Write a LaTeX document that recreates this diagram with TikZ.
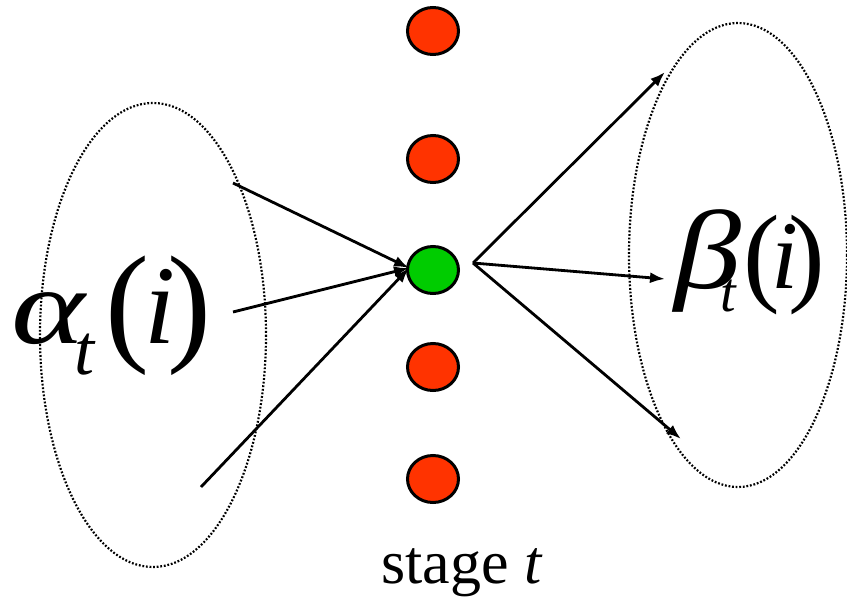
\documentclass[tikz,border=0pt]{standalone}
\usepackage{fontspec}
\setmainfont{Liberation Serif}
\usetikzlibrary{arrows.meta,shapes.geometric}
\definecolor{dotred}{RGB}{255,51,0}
\definecolor{dotgreen}{RGB}{0,204,0}
\newcommand{\fsz}[1]{\fontsize{#1}{#1}\selectfont}
\begin{document}
\begin{tikzpicture}[x=1pt,y=-1pt,
  state/.style={ellipse,draw=black,line width=3pt,minimum width=51pt,minimum height=47pt,inner sep=0pt},
  redstate/.style={state,fill=dotred},
  greenstate/.style={state,fill=dotgreen},
  group/.style={draw=black,line width=2.2pt,dash pattern=on 1.8pt off 1.8pt},
  link/.style={draw=black,line width=2.8pt,-{Latex[length=15pt,width=11pt]}},
  lbl/.style={inner sep=0pt,anchor=base west}]
\useasboundingbox (0,0) rectangle (847,597);
\fill[white] (0,0) rectangle (847,597);
% group ellipses
\draw[group] (153,335) ellipse [x radius=113, y radius=232];
\draw[group] (738,255) ellipse [x radius=109, y radius=232];
% states
\node[redstate] (r1) at (433,31) {};
\node[redstate] (r2) at (433,159) {};
\node[greenstate] (g) at (433,270) {};
\node[redstate] (r3) at (433,367) {};
\node[redstate] (r4) at (433,479) {};
% free ends
\coordinate (a1) at (233,183);
\coordinate (a2) at (233,312);
\coordinate (a3) at (201,487);
\coordinate (gin) at (409,268);
\coordinate (gs) at (473,263);
\coordinate (b1) at (665,72);
\coordinate (b2) at (665,279);
\coordinate (b3) at (681,439);
\draw[link] (a1) -- (gin);
\draw[link] (a2) -- (gin);
\draw[link] (a3) -- (gin);
\draw[link] (gs) -- (b1);
\draw[link] (gs) -- (b2);
\draw[link] (gs) -- (b3);
% labels
\node[lbl] (alpha) at (11,343) {\itshape\scalebox{1.3}[1]{\fsz{108}α}\kern-10pt\raisebox{-31pt}{\fsz{72}t}\kern11pt\raisebox{-4pt}{\fsz{132}\upshape(}\kern-5pt\fsz{112}i\kern-8pt\raisebox{-4pt}{\fsz{132}\upshape)}};
\node[lbl] (beta) at (674,288) {\itshape\scalebox{1.2}[1]{\fsz{112}β}\kern-21pt\raisebox{-23pt}{\fsz{56}t}\kern8pt\raisebox{-3pt}{\fsz{110}\upshape(}\kern-9pt\fsz{97}i\kern-10pt\raisebox{-3pt}{\fsz{110}\upshape)}};
\node[lbl] (stage) at (381,583) {\fsz{62}stage \textit{t}};
\end{tikzpicture}
\end{document}
